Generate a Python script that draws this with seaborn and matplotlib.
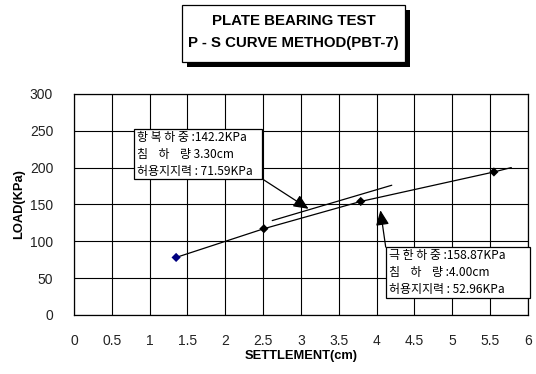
import matplotlib
matplotlib.use("Agg")
import matplotlib.pyplot as plt
from matplotlib.patches import Rectangle
import pandas as pd
import seaborn as sns

# Plate bearing test readings: settlement (cm) vs applied load (KPa)
settlement = [1.35, 2.51, 3.79, 5.55]
load = [78, 117, 154, 194]

# extension of the load curve beyond the last reading
ext_settlement = [5.55, 5.78]
ext_load = [194, 200]

# tangent line used to locate the yield point
tangent_settlement = [2.62, 4.20]
tangent_load = [128, 176]

x_ticks = [0, 0.5, 1, 1.5, 2, 2.5, 3, 3.5, 4, 4.5, 5, 5.5, 6]
x_tick_labels = ["0", "0.5", "1", "1.5", "2", "2.5", "3", "3.5", "4", "4.5", "5", "5.5", "6"]
y_ticks = [0, 50, 100, 150, 200, 250, 300]

title_lines = ["PLATE BEARING TEST", "P - S CURVE METHOD(PBT-7)"]
yield_text = "항 복 하 중 :142.2KPa\n침    하    량 3.30cm\n허용지지력 : 71.59KPa"
ultimate_text = "극 한 하 중 :158.87KPa\n침    하    량 :4.00cm\n허용지지력 : 52.96KPa"

sns.set_style("white")
plt.rcParams["font.family"] = ["Liberation Sans", "DejaVu Sans"]
plt.rcParams["text.color"] = "black"
plt.rcParams["axes.labelcolor"] = "black"
KR = ["Noto Sans CJK KR", "DejaVu Sans"]

df = pd.DataFrame({"settlement": settlement, "load": load})

fig = plt.figure(figsize=(5.36, 3.74), dpi=100)
ax = fig.add_axes([0.138, 0.158, 0.847, 0.591])

sns.lineplot(data=df, x="settlement", y="load", ax=ax, color="black",
             linewidth=0.9, sort=False, legend=False)
ax.plot(ext_settlement, ext_load, color="black", linewidth=0.9)
ax.plot(tangent_settlement, tangent_load, color="black", linewidth=0.9)
marker_colors = ["#000080", "black", "black", "black"]
sns.scatterplot(data=df, x="settlement", y="load", ax=ax, marker="D", s=22,
                hue=df.index.astype(str), palette=marker_colors,
                edgecolor="none", legend=False, zorder=5)

ax.set_xlim(0, 6)
ax.set_ylim(0, 300)
ax.set_xticks(x_ticks)
ax.set_xticklabels(x_tick_labels)
ax.set_yticks(y_ticks)
ax.grid(True, color="black", linewidth=0.8)
ax.set_axisbelow(True)
for sp in ax.spines.values():
    sp.set_color("black")
    sp.set_linewidth(0.9)
ax.tick_params(axis="both", length=0, labelsize=10, labelcolor="#222222")
ax.tick_params(axis="x", pad=14)
ax.tick_params(axis="y", pad=15)

ax.set_xlabel("SETTLEMENT(cm)", fontsize=9.3, fontweight="bold", labelpad=1)
ax.set_ylabel("LOAD(KPa)", fontsize=9.3, fontweight="bold", labelpad=3)


def note_box(x0, x1, y0, y1, text):
    """White framed note with its text block placed at the upper left."""
    ax.add_patch(Rectangle((x0, y0), x1 - x0, y1 - y0, facecolor="white",
                           edgecolor="black", linewidth=0.9, zorder=6, clip_on=False))
    ax.text(x0 + 0.04, y1 - 3, text, family=KR, fontsize=8.6, va="top", ha="left",
            linespacing=1.38, zorder=7, clip_on=False)


note_box(0.79, 2.49, 184.5, 252, yield_text)
note_box(4.12, 6.03, 23, 92, ultimate_text)

arrow_kw = dict(arrowstyle="-|>,head_length=0.9,head_width=0.4", color="black",
                linewidth=0.9, shrinkA=0, shrinkB=0)
ax.annotate("", xy=(3.10, 144), xytext=(2.49, 184.5), arrowprops=arrow_kw, zorder=8)
ax.annotate("", xy=(4.05, 142), xytext=(4.12, 92), arrowprops=arrow_kw, zorder=8)

# title box with drop shadow
fw, fh = 536, 374
sx, sy, sw, sh = 182, 5, 223, 57
fig.patches.append(Rectangle(((sx + 5) / fw, 1 - (sy + sh + 5) / fh), sw / fw, sh / fh,
                             transform=fig.transFigure, facecolor="black",
                             edgecolor="none", zorder=1))
fig.patches.append(Rectangle((sx / fw, 1 - (sy + sh) / fh), sw / fw, sh / fh,
                             transform=fig.transFigure, facecolor="white",
                             edgecolor="black", linewidth=0.9, zorder=2))
fig.text((sx + sw / 2) / fw, 1 - 21 / fh, title_lines[0], ha="center", va="center",
         fontsize=10.8, fontweight="bold", color="black", zorder=3)
fig.text((sx + sw / 2) / fw, 1 - 43 / fh, title_lines[1], ha="center", va="center",
         fontsize=10.8, fontweight="bold", color="black", zorder=3)

fig.savefig("out.png", dpi=100)
